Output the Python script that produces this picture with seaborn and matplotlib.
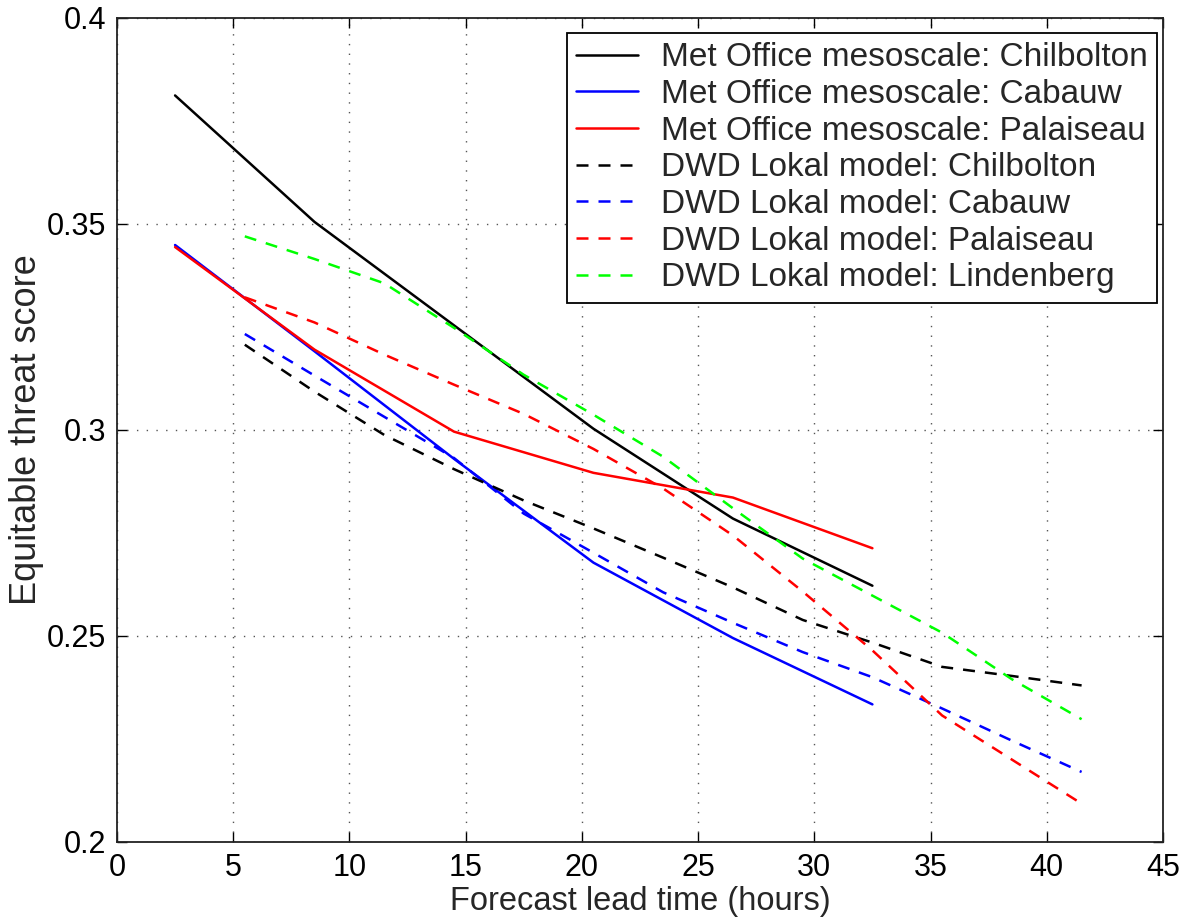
import numpy as np
import pandas as pd
import matplotlib
matplotlib.use("Agg")
import matplotlib.pyplot as plt
import seaborn as sns

# Forecast lead times (hours)
x_met = [2.5, 8.5, 14.5, 20.5, 26.5, 32.5]
x_dwd = [5.5, 8.5, 11.5, 14.5, 17.5, 20.5, 23.5, 26.5, 29.5, 32.5, 35.5, 38.5, 41.5]

# Equitable threat scores, Met Office mesoscale model
met_chilbolton = [0.3812, 0.3505, 0.3254, 0.3003, 0.2785, 0.2622]
met_cabauw = [0.3449, 0.3191, 0.2930, 0.2678, 0.2495, 0.2334]
met_palaiseau = [0.3444, 0.3195, 0.2996, 0.2896, 0.2836, 0.2713]

# Equitable threat scores, DWD Lokal model
dwd_chilbolton = [0.3207, 0.3093, 0.2988, 0.2905, 0.2829, 0.2761, 0.2690,
                  0.2618, 0.2539, 0.2484, 0.2425, 0.2403, 0.2380]
dwd_cabauw = [0.3233, 0.3132, 0.3032, 0.2932, 0.2797, 0.2702, 0.2606,
              0.2532, 0.2461, 0.2400, 0.2324, 0.2246, 0.2170]
dwd_palaiseau = [0.3322, 0.3261, 0.3183, 0.3110, 0.3039, 0.2954, 0.2858,
                 0.2744, 0.2608, 0.2465, 0.2307, 0.2200, 0.2093]
dwd_lindenberg = [0.3470, 0.3415, 0.3356, 0.3248, 0.3134, 0.3037, 0.2935,
                  0.2810, 0.2688, 0.2598, 0.2508, 0.2395, 0.2298]

labels = [
    "Met Office mesoscale: Chilbolton",
    "Met Office mesoscale: Cabauw",
    "Met Office mesoscale: Palaiseau",
    "DWD Lokal model: Chilbolton",
    "DWD Lokal model: Cabauw",
    "DWD Lokal model: Palaiseau",
    "DWD Lokal model: Lindenberg",
]
series = [
    (x_met, met_chilbolton, "#000000", "-"),
    (x_met, met_cabauw, "#0000ff", "-"),
    (x_met, met_palaiseau, "#ff0000", "-"),
    (x_dwd, dwd_chilbolton, "#000000", "--"),
    (x_dwd, dwd_cabauw, "#0000ff", "--"),
    (x_dwd, dwd_palaiseau, "#ff0000", "--"),
    (x_dwd, dwd_lindenberg, "#00ff00", "--"),
]

sns.set_style("ticks")
plt.rcParams["font.family"] = ["Liberation Sans", "DejaVu Sans"]

fig = plt.figure(figsize=(11.79, 9.18), dpi=100)
ax = fig.add_axes([0.0992, 0.0828, 0.9864 - 0.0992, 0.9804 - 0.0828])

for label, (xs, ys, color, ls) in zip(labels, series):
    df = pd.DataFrame({"lead": xs, "ets": ys})
    sns.lineplot(data=df, x="lead", y="ets", ax=ax, color=color,
                 linewidth=1.8, label=label, estimator=None, sort=False)
    ln = ax.get_lines()[-1]
    if ls == "--":
        ln.set_dashes((4.8, 4.0))

ax.set_xlim(0, 45)
ax.set_ylim(0.2, 0.4)
ax.set_xticks(np.arange(0, 46, 5))
ax.set_yticks([0.2, 0.25, 0.3, 0.35, 0.4])
ax.set_xticklabels([str(v) for v in range(0, 46, 5)])
ax.set_yticklabels(["0.2", "0.25", "0.3", "0.35", "0.4"])

ax.grid(True, color="#555555", linestyle=(0, (1, 6)), linewidth=1.0)
ax.tick_params(direction="in", length=7, width=1.0, top=True, right=True,
               labelsize=22, pad=8, colors="black")
for sp in ax.spines.values():
    sp.set_visible(True)
    sp.set_color("#222222")
    sp.set_linewidth(1.3)

ax.set_xlabel("Forecast lead time (hours)", fontsize=23.5, labelpad=2)
ax.set_ylabel("Equitable threat score", fontsize=26, labelpad=2)

leg = ax.legend(loc="upper right", fontsize=24, frameon=True, fancybox=False,
                edgecolor="black", framealpha=1.0, handlelength=1.85,
                handletextpad=0.7, labelspacing=0.17, borderpad=0.28,
                borderaxespad=0.0, bbox_to_anchor=(0.9943, 0.9818))
leg.get_frame().set_linewidth(1.3)

fig.savefig("out.png", dpi=100)
